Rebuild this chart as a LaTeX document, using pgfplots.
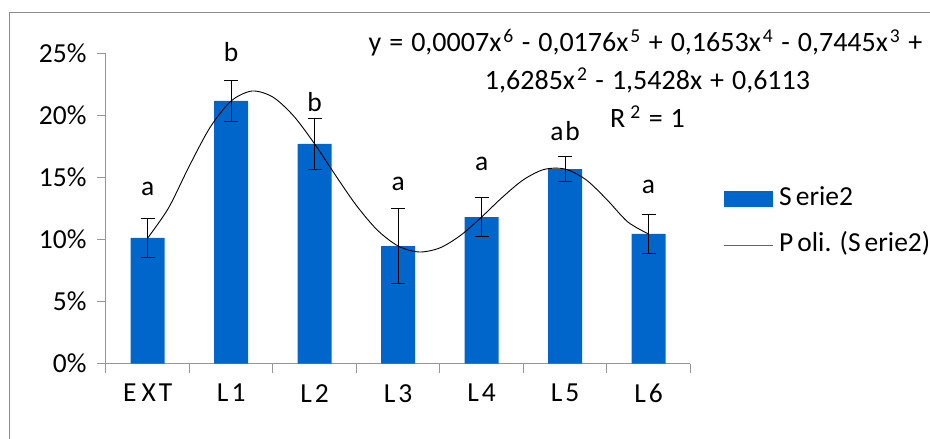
\documentclass[border=0pt]{standalone}
\usepackage{pgfplots}
\pgfplotsset{compat=1.18}
\usepackage{fontspec}
\setmainfont{Carlito}
\definecolor{barblue}{RGB}{0,102,204}
\definecolor{axgray}{RGB}{150,150,150}
\definecolor{bordergray}{RGB}{140,140,140}
\newcommand\fs{\fontsize{27.5}{30}\selectfont}
\newcommand\eqfs{\fontsize{28}{30}\selectfont\spaceskip=8pt plus 1pt minus 1pt\relax}
\begin{document}
\begin{tikzpicture}[x=1pt,y=1pt]
\draw[bordergray, line width=1.3pt] (9.3,-10) -- (9.3,426.3) -- (940,426.3);
\begin{axis}[
  at={(106pt,75.3pt)}, anchor=origin,
  scale only axis, width=584.3pt, height=310pt,
  xmin=0.5, xmax=7.5, ymin=0, ymax=25,
  axis x line*=bottom, axis y line*=left,
  axis line style={axgray, line width=1pt, -},
  every tick/.style={axgray, line width=1pt},
  tick align=outside,
  xtick={1,...,7},
  xticklabels={E\kern5pt X\kern3pt T, L\kern3pt 1, L\kern3pt 2, L\kern3pt 3, L\kern3pt 4, L\kern3pt 5, L\kern3pt 6},
  major x tick style={draw=none},
  minor xtick={0.5,1.5,...,7.5},
  minor tick length=9.3pt,
  ytick={0,5,...,25},
  major tick length=9pt,
  yticklabel={\pgfmathprintnumber{\tick}\%},
  /pgf/number format/assume math mode=true,
  tick label style={font=\fs, black},
  yticklabel style={xshift=-7pt},
  xticklabel style={yshift=-8pt},
  legend style={at={(1.056,0.457)}, anchor=west, draw=none, fill=none,
    font=\fs, inner sep=0pt, row sep=22pt,
    nodes={inner sep=0pt, text height=18pt, text depth=6pt},
    /tikz/every odd column/.append style={column sep=6pt}},
  legend cell align=left,
]
\addplot[ybar, bar width=34pt, fill=barblue, draw=none, area legend,
  legend image code/.code={\fill[barblue] (0pt,-8pt) rectangle (49pt,8.5pt);},
  error bars/.cd, y dir=both, y explicit,
  error bar style={black, line width=1pt},
  error mark options={rotate=90, mark size=7pt, line width=1pt, black}]
  coordinates {
  (1,10.14) +- (0,1.57)
  (2,21.19) +- (0,1.66)
  (3,17.72) +- (0,2.05)
  (4,9.49)  +- (0,3.05)
  (5,11.83) +- (0,1.60)
  (6,15.70) +- (0,1.01)
  (7,10.46) +- (0,1.60)
  };
\addlegendentry{S\kern4pt erie2}
\addplot[black, line width=0.9pt, smooth, mark=none,
  legend image code/.code={\draw[gray!80!black, line width=1pt] (0pt,0pt) -- (49pt,0pt);}]
  coordinates {
  (1,10.14) (1.25,12.57) (1.5,15.97) (1.75,19.09) (2,21.19) (2.25,21.99)
  (2.5,21.50) (2.75,19.96) (3,17.72) (3.25,15.19) (3.5,12.76) (3.75,10.78)
  (4,9.49) (4.25,9.01) (4.5,9.34) (4.75,10.36) (5,11.83) (5.25,13.43)
  (5.5,14.83) (5.75,15.67) (6,15.70) (6.25,14.84) (6.5,13.24) (6.75,11.44)
  (7,10.46)
  };
\addlegendentry{P\kern4pt oli. (S\kern4pt erie2)}
\addplot[draw=none, mark=none, forget plot,
  nodes near coords, point meta=explicit symbolic,
  nodes near coords style={anchor=base, font=\fs, black, inner sep=0pt}]
  coordinates {
  (1,13.60) [a]
  (2,24.35) [b]
  (3,20.32) [b]
  (4,14.00) [a]
  (5,15.56) [a]
  (6,18.04) [a\kern2pt b]
  (7,13.74) [a]
  };
\end{axis}
\node[anchor=base, font=\eqfs, inner sep=0pt] at (645.5,387) {y = 0,0007x\kern2pt\textsuperscript{6} - 0,0176x\kern2pt\textsuperscript{5} + 0,1653x\kern2pt\textsuperscript{4} - 0,7445x\kern2pt\textsuperscript{3} +};
\node[anchor=base, font=\eqfs, inner sep=0pt] at (647.5,349) {1,6285x\kern2pt\textsuperscript{2} - 1,5428x + 0,6113};
\node[anchor=base, font=\eqfs, inner sep=0pt] at (647.5,311) {R\kern5pt\textsuperscript{2} = 1};
\pgfresetboundingbox
\useasboundingbox (0,0) rectangle (930,439);
\end{tikzpicture}
\end{document}
